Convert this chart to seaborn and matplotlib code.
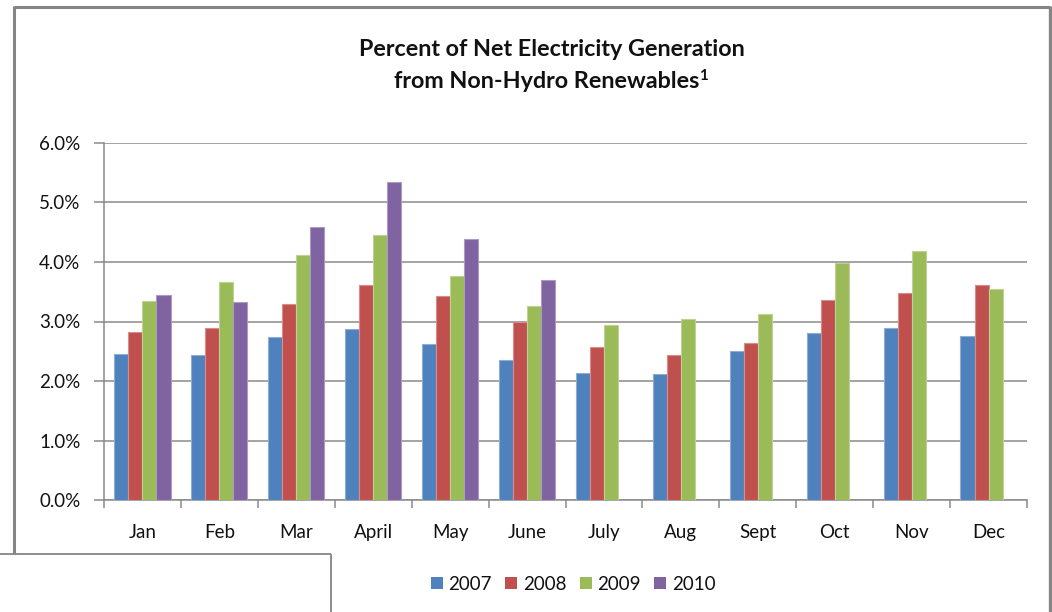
import matplotlib
matplotlib.use("Agg")
import matplotlib.pyplot as plt
import matplotlib.colors as mcolors
from matplotlib.lines import Line2D
from matplotlib.patches import Patch
import numpy as np
import pandas as pd
import seaborn as sns

# Monthly share (%) of net electricity generation from non-hydro renewables
months = ["Jan", "Feb", "Mar", "April", "May", "June",
          "July", "Aug", "Sept", "Oct", "Nov", "Dec"]
years = ["2007", "2008", "2009", "2010"]
share_2007 = [2.46, 2.44, 2.74, 2.87, 2.62, 2.36, 2.13, 2.11, 2.50, 2.81, 2.89, 2.76]
share_2008 = [2.83, 2.89, 3.30, 3.61, 3.43, 3.00, 2.57, 2.44, 2.64, 3.36, 3.48, 3.61]
share_2009 = [3.34, 3.67, 4.11, 4.45, 3.76, 3.26, 2.94, 3.04, 3.12, 3.98, 4.18, 3.54]
share_2010 = [3.45, 3.32, 4.59, 5.35, 4.38, 3.69, None, None, None, None, None, None]
y_ticks = [0, 1, 2, 3, 4, 5, 6]

colors = ["#4F81BD", "#C0504D", "#9BBB59", "#8064A2"]
grid_gray = "#8a8a8a"

series = [share_2007, share_2008, share_2009, share_2010]
rows = []
for yr, vals in zip(years, series):
    for m, v in zip(months, vals):
        rows.append({"month": m, "year": yr,
                     "share": np.nan if v is None else v})
df = pd.DataFrame(rows)
df["month"] = pd.Categorical(df["month"], categories=months, ordered=True)
df["year"] = pd.Categorical(df["year"], categories=years, ordered=True)

sns.set_theme(style="white")
plt.rcParams["font.family"] = ["Lato", "DejaVu Sans"]

W, H = 1052, 612
fig = plt.figure(figsize=(W / 100, H / 100), dpi=100)
fig.patch.set_facecolor("white")

# plot area in pixel coordinates
x0, x1, ytop, ybot = 104, 1027, 143, 500
ax = fig.add_axes([x0 / W, 1 - ybot / H, (x1 - x0) / W, (ybot - ytop) / H])

sns.barplot(data=df, x="month", y="share", hue="year", order=months,
            hue_order=years, palette=colors, width=0.73, saturation=1,
            errorbar=None, legend=False, ax=ax, zorder=3)

# light rim around each bar
for p in ax.patches:
    fc = np.array(mcolors.to_rgb(p.get_facecolor()))
    p.set_edgecolor(tuple(fc + (1 - fc) * 0.35))
    p.set_linewidth(0.8)

ax.set_ylim(0, 6)
ax.set_xlim(-0.5, 11.5)
ax.set_yticks(y_ticks)
ax.set_yticklabels([f"{t:.1f}%" for t in y_ticks])
ax.set_xlabel("")
ax.set_ylabel("")

ax.grid(axis="y", color=grid_gray, linewidth=1.1, zorder=0)
ax.grid(axis="x", visible=False)
ax.set_axisbelow(True)
for s in ["top", "right"]:
    ax.spines[s].set_visible(False)
for s in ["left", "bottom"]:
    ax.spines[s].set_color(grid_gray)
    ax.spines[s].set_linewidth(1.1)

ax.set_xticks(np.arange(-0.5, 12, 1.0), minor=True)
ax.tick_params(axis="x", which="major", length=0, pad=17, labelsize=13.5,
               labelcolor="#111111")
ax.tick_params(axis="x", which="minor", length=6, width=1.1, color=grid_gray,
               direction="out", bottom=True)
ax.tick_params(axis="y", which="major", length=7, width=1.1, color=grid_gray,
               direction="out", left=True, pad=10, labelsize=13.5,
               labelcolor="#111111")

title_kw = dict(fontsize=16.8, fontweight="bold", color="#111111")
fig.text(552 / W, 1 - 50 / H, "Percent of Net Electricity Generation",
         ha="center", va="center", **title_kw)
line2 = fig.text(547 / W, 1 - 81 / H, "from Non-Hydro Renewables",
                 ha="center", va="center", **title_kw)
renderer = fig.canvas.get_renderer()
bb = line2.get_window_extent(renderer=renderer)
fig.text((bb.x1 - 1) / W, (bb.y1 + 1) / H, "1", ha="left", va="top",
         fontsize=11, fontweight="bold", color="#111111")

handles = [Patch(facecolor=c, edgecolor="none", label=y)
           for c, y in zip(colors, years)]
fig.legend(handles=handles, loc="center", bbox_to_anchor=(573 / W, 1 - 584 / H),
           ncol=4, frameon=False, fontsize=13.5, handlelength=0.65,
           handleheight=0.65, handletextpad=0.3, columnspacing=0.7,
           labelcolor="#111111")

# chart border and the panel edge at lower left
def seg(xs, ys, lw):
    fig.add_artist(Line2D([x / W for x in xs], [1 - y / H for y in ys],
                          color="#858585", linewidth=lw,
                          transform=fig.transFigure, solid_capstyle="butt"))

seg([13.5, 1050], [7, 7], 2.2)
seg([14, 14], [6, 554], 2.2)
seg([1049.5, 1049.5], [6, 612], 2.4)
seg([0, 331], [554, 554], 1.3)
seg([331, 331], [554, 612], 1.3)

fig.savefig("out.png", dpi=100, facecolor="white")
